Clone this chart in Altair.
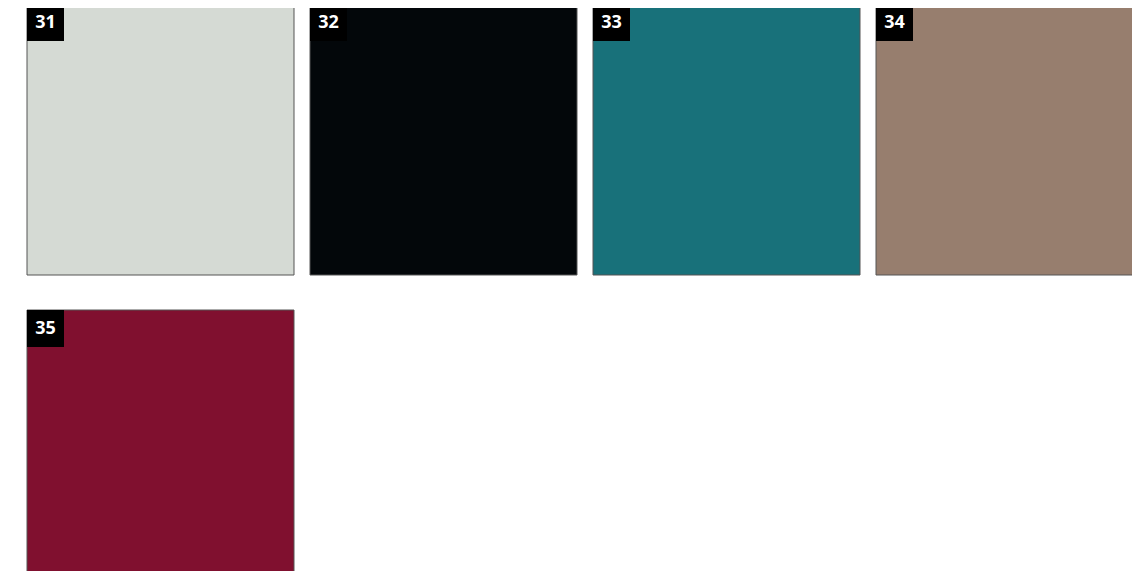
import altair as alt
import pandas as pd

numbers = ["31", "32", "33", "34", "35"]
colors = ["#D5DAD4", "#03070A", "#18717A", "#977E6E", "#80102F"]
cols = [0, 1, 2, 3, 0]
rows = [0, 0, 0, 0, 1]

df = pd.DataFrame({"num": numbers, "hex": colors, "col": cols, "row": rows})

xs = alt.X("col:O", axis=None,
           scale=alt.Scale(domain=[0, 1, 2, 3], range=[19, 1135],
                           paddingInner=16 / 283, paddingOuter=0))
ys = alt.Y("row:O", axis=None,
           scale=alt.Scale(domain=[0, 1], range=[-4, 573],
                           paddingInner=35 / 306, paddingOuter=0))

base = alt.Chart(df)

swatches = base.mark_rect(stroke="#555555", strokeWidth=1).encode(
    x=xs, y=ys, color=alt.Color("hex:N", scale=None)
)

boxes = base.mark_square(size=37 * 37, color="#000000", opacity=1,
                         xOffset=-115, yOffset=-117).encode(x=xs, y=ys)

labels = base.mark_text(color="white", fontSize=18, fontWeight="bold",
                        font="Open Sans", align="center", baseline="middle",
                        xOffset=-115, yOffset=-117).encode(
    x=xs, y=ys, text="num:N"
)

chart = alt.layer(swatches, boxes, labels).properties(
    width=1124, height=563,
    autosize=alt.AutoSizeParams(type="none"),
    padding=0,
).configure_view(stroke=None)

chart.save("out.html", embed_options={"renderer": "svg", "actions": False})
